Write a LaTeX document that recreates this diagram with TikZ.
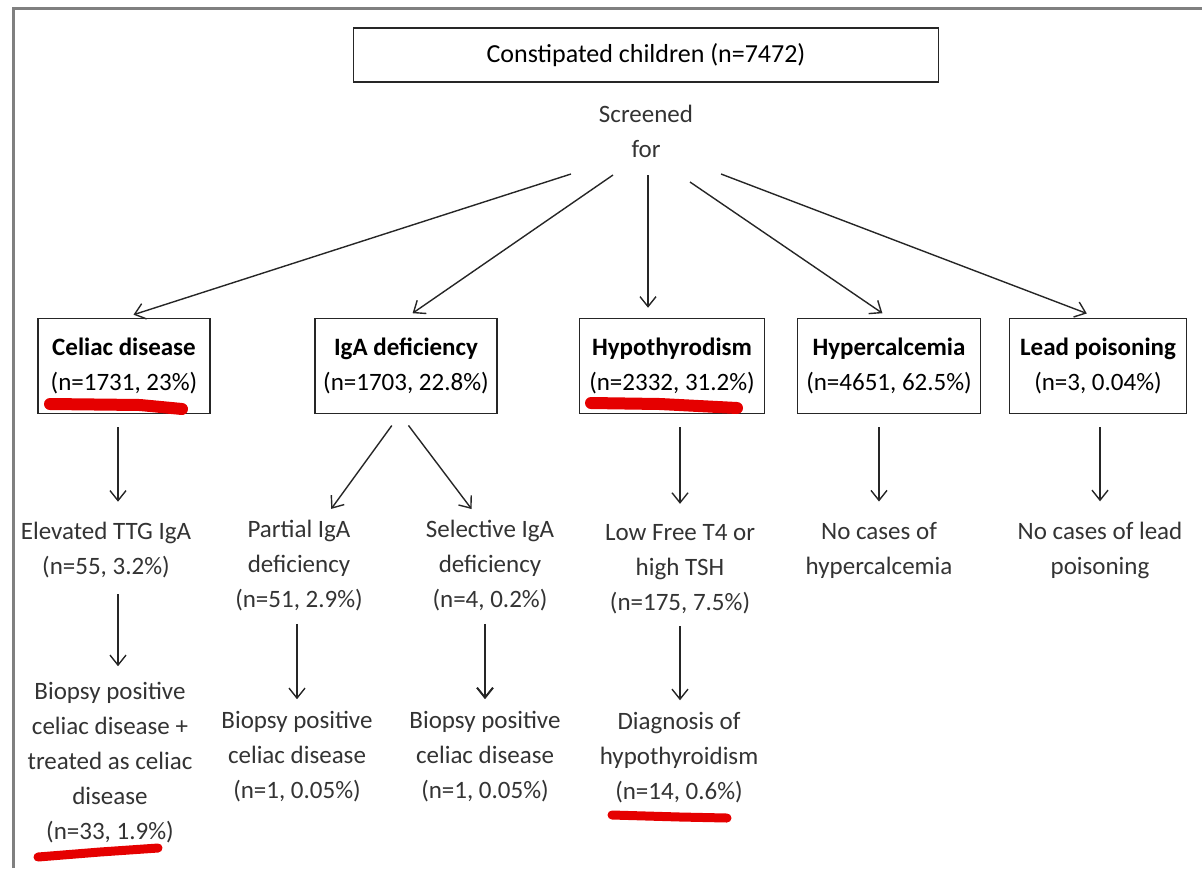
\documentclass[tikz,border=0pt]{standalone}
\usepackage{fontspec}
\setmainfont{Carlito}
\usetikzlibrary{arrows.meta,positioning,calc}

\begin{document}
\begin{tikzpicture}[x=0.5pt,y=-0.5pt,
  every node/.style={font=\fontsize{12.5}{17.5}\selectfont},
  box/.style={draw=black!85,line width=0.75pt,minimum height=47.5pt,align=center,inner sep=2pt},
  txt/.style={align=center,text=black!80,inner sep=0pt},
  arr/.style={draw=black!85,line width=0.7pt,-{Straight Barb[length=5pt,width=8pt]}},
  redline/.style={red!90!black,line width=6pt,line cap=round,line join=round}]
\useasboundingbox (0,0) rectangle (1202,868);
\draw[gray,line width=1.5pt] (13,868) -- (13,8) -- (1202,8);
% top box and screening
\node[box,minimum width=292.5pt,minimum height=27pt,font=\fontsize{13}{17.5}\selectfont] (top) at (646,55) {Constipated children (n=7472)};
\node[txt] (scr) at (646,131) {Screened\\for};
\coordinate (s1) at (571,174);\coordinate (s2) at (613,175);\coordinate (s3) at (648,175);
\coordinate (s4) at (690,182);\coordinate (s5) at (721,174);
\foreach \nm/\x/\w/\ttl/\cnt in {cel/124/172/Celiac disease/{(n=1731, 23\%)},iga/406/182/IgA deficiency/{(n=1703, 22.8\%)},hyp/672/185/Hypothyrodism/{(n=2332, 31.2\%)},hca/889/183/Hypercalcemia/{(n=4651, 62.5\%)},lead/1098/177/Lead poisoning/{(n=3, 0.04\%)}}{
 \node[box,minimum width=\w*0.5pt] (\nm) at (\x,366) {\textbf{\ttl}\\\cnt};}
\draw[arr,shorten >=5pt] (s1) -- (cel.north);
\draw[arr,shorten >=4pt] (s2) -- (iga.north);
\draw[arr,shorten >=5pt] (s3) -- (s3 |- hyp.north);
\draw[arr,shorten >=4pt] (s4) -- (hca.north);
\draw[arr,shorten >=6pt] (s5) -- (lead.north);
% lower texts
\node[txt] (elev) at (106,550) {Elevated TTG IgA\\(n=55, 3.2\%)};
\node[txt] (bio1) at (110,763) {Biopsy positive\\celiac disease +\\treated as celiac\\disease\\(n=33, 1.9\%)};
\node[txt] (par) at (299,566) {Partial IgA\\deficiency\\(n=51, 2.9\%)};
\node[txt] (bio2) at (297,757) {Biopsy positive\\celiac disease\\(n=1, 0.05\%)};
\node[txt] (sel) at (490,566) {Selective IgA\\deficiency\\(n=4, 0.2\%)};
\node[txt] (bio3) at (485,757) {Biopsy positive\\celiac disease\\(n=1, 0.05\%)};
\node[txt] (low) at (680,569) {Low Free T4 or\\high TSH\\(n=175, 7.5\%)};
\node[txt] (dia) at (679,758) {Diagnosis of\\hypothyroidism\\(n=14, 0.6\%)};
\node[txt] (nohc) at (879,550) {No cases of\\hypercalcemia};
\node[txt] (nolp) at (1100,550) {No cases of lead\\poisoning};
% lower arrows
\draw[arr,shorten <=6.5pt,shorten >=10pt] ([xshift=-3pt]cel.south) -- ([xshift=-3pt]cel.south |- elev.north);
\draw[arr,shorten <=8pt,shorten >=8pt] ([xshift=-3pt]cel.south |- elev.south) -- ([xshift=-3pt]cel.south |- bio1.north);
\draw[arr,shorten <=7pt,shorten >=7pt] ([xshift=-3pt]iga.south) -- ([xshift=12pt]par.north);
\draw[arr,shorten <=7pt,shorten >=7pt] ([xshift=-3pt]iga.south) -- ([xshift=-5pt]sel.north);
\draw[arr,shorten <=6pt,shorten >=6pt] (par.south -| bio2.north) -- (bio2.north);
\draw[arr,line width=1pt,shorten <=6pt,shorten >=6pt] (sel.south -| bio3.north) -- (bio3.north);
\draw[arr,shorten <=6.5pt,shorten >=10pt] (hyp.south -| low.north) -- (low.north);
\draw[arr,shorten <=6pt,shorten >=6pt] (low.south) -- (low.south |- dia.north);
\draw[arr,shorten <=6.5pt,shorten >=10pt] (hca.south -| nohc.north) -- (nohc.north);
\draw[arr,shorten <=6.5pt,shorten >=10pt] (lead.south -| nolp.north) -- (nolp.north);
% red marks
\draw[redline] (50,404) -- (140,405) -- (182,409);
\draw[redline] (591,403) -- (660,404) -- (737,408);
\draw[redline,line width=4.5pt] (38,857) -- (100,852) -- (158,848);
\draw[redline,line width=4.5pt] (612,815) -- (680,817) -- (727,818);
\end{tikzpicture}
\end{document}
